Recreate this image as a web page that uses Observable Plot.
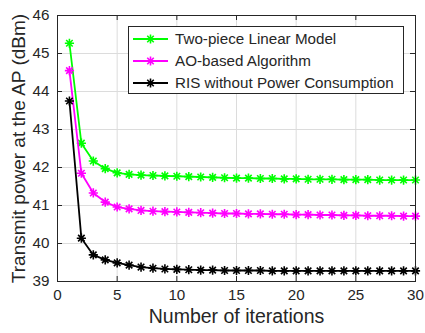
<!DOCTYPE html>
<html>
<head>
<meta charset="utf-8">
<script src="https://cdn.jsdelivr.net/npm/d3@7"></script>
<script src="https://cdn.jsdelivr.net/npm/@observablehq/plot@0.6"></script>
<style>
  html, body { margin: 0; padding: 0; background: #fff; }
  #wrap { position: relative; width: 425px; height: 333px; font-family: "Liberation Sans", Arial, sans-serif; color: #262626; }
  #legend { position: absolute; left: 128px; top: 26px; width: 274px; height: 66px; border: 1px solid #262626; background: #fff; box-sizing: content-box; }
  .row { position: absolute; left: 0; height: 22px; display: flex; align-items: center; font-size: 15.2px; white-space: nowrap; }
  .row svg { margin-left: 4px; margin-right: 7px; }
</style>
</head>
<body>
<div id="wrap"></div>
<script>
const iterations = d3.range(1, 31);
const seriesNames = ["Two-piece Linear Model", "AO-based Algorithm", "RIS without Power Consumption"];
const seriesColors = ["#00ff00", "#ff00ff", "#000000"];
const twoPiece = [45.27, 42.64, 42.17, 41.97, 41.86, 41.82, 41.80, 41.79, 41.78, 41.77, 41.76, 41.75, 41.74, 41.73, 41.72, 41.72, 41.71, 41.71, 41.70, 41.70, 41.69, 41.69, 41.69, 41.68, 41.68, 41.68, 41.67, 41.67, 41.67, 41.67];
const aoBased = [44.55, 41.85, 41.33, 41.09, 40.96, 40.91, 40.87, 40.85, 40.84, 40.83, 40.82, 40.81, 40.80, 40.79, 40.79, 40.78, 40.78, 40.77, 40.77, 40.76, 40.76, 40.75, 40.75, 40.74, 40.74, 40.73, 40.73, 40.73, 40.72, 40.72];
const risNoPower = [43.75, 40.14, 39.70, 39.57, 39.49, 39.43, 39.38, 39.35, 39.33, 39.32, 39.31, 39.30, 39.30, 39.29, 39.29, 39.29, 39.29, 39.28, 39.28, 39.28, 39.28, 39.28, 39.28, 39.28, 39.28, 39.28, 39.28, 39.28, 39.28, 39.28];
const xTicks = [0, 5, 10, 15, 20, 25, 30];
const yTicks = [39, 40, 41, 42, 43, 44, 45, 46];

const allValues = [twoPiece, aoBased, risNoPower];
const data = [];
allValues.forEach((vals, s) => vals.forEach((v, i) => data.push({series: seriesNames[s], x: iterations[i], y: v})));

const asterisk8 = {
  draw(ctx, size) {
    const r = Math.sqrt(size / Math.PI);
    const d = r * Math.SQRT1_2;
    ctx.moveTo(-r, 0); ctx.lineTo(r, 0);
    ctx.moveTo(0, -r); ctx.lineTo(0, r);
    ctx.moveTo(-d, -d); ctx.lineTo(d, d);
    ctx.moveTo(-d, d); ctx.lineTo(d, -d);
  }
};

const W = 425, H = 333, mL = 57, mR = 10, mT = 15, mB = 52;
const innerW = W - mL - mR, innerH = H - mT - mB;
const tickLen = 5;

const marks = [
  Plot.gridX(xTicks, {stroke: "#dcdcdc", strokeOpacity: 1}),
  Plot.gridY(yTicks, {stroke: "#dcdcdc", strokeOpacity: 1}),
  Plot.tickX(xTicks, {x: d => d, stroke: "#262626", insetTop: innerH - tickLen}),
  Plot.tickX(xTicks, {x: d => d, stroke: "#262626", insetBottom: innerH - tickLen}),
  Plot.tickY(yTicks, {y: d => d, stroke: "#262626", insetRight: innerW - tickLen}),
  Plot.tickY(yTicks, {y: d => d, stroke: "#262626", insetLeft: innerW - tickLen}),
  Plot.axisX(xTicks, {tickSize: 0, tickPadding: 8, fontSize: 15.2, label: null, fill: "#262626"}),
  Plot.axisY(yTicks, {tickSize: 0, tickPadding: 8, fontSize: 15.2, label: null, fill: "#262626"}),
];
seriesNames.forEach((name, s) => {
  const rows = data.filter(d => d.series === name);
  marks.push(Plot.line(rows, {x: "x", y: "y", stroke: seriesColors[s], strokeWidth: 1.8}));
  marks.push(Plot.dot(rows, {x: "x", y: "y", symbol: asterisk8, r: 4.6, stroke: seriesColors[s], fill: "none", strokeWidth: 1.6}));
});
marks.push(
  Plot.frame({stroke: "#262626"}),
  Plot.text(["Number of iterations"], {text: d => d, frameAnchor: "bottom", dy: 41, fontSize: 19.5, fill: "#262626"}),
  Plot.text(["Transmit power at the AP (dBm)"], {text: d => d, frameAnchor: "left", textAnchor: "middle", rotate: -90, dx: -39, fontSize: 19, fill: "#262626"})
);

const chart = Plot.plot({
  width: W, height: H,
  marginLeft: mL, marginRight: mR, marginTop: mT, marginBottom: mB,
  style: {fontFamily: "Liberation Sans, Arial, sans-serif", background: "#fff", color: "#262626", overflow: "visible"},
  x: {domain: [0, 30], axis: null},
  y: {domain: [39, 46], axis: null},
  marks
});
const wrap = document.getElementById("wrap");
wrap.appendChild(chart);

// Legend
const legend = document.createElement("div");
legend.id = "legend";
seriesNames.forEach((name, s) => {
  const row = document.createElement("div");
  row.className = "row";
  row.style.top = (0.5 + s * 22) + "px";
  const sw = d3.create("svg").attr("width", 35).attr("height", 14);
  sw.append("line").attr("x1", 0).attr("x2", 35).attr("y1", 7).attr("y2", 7)
    .attr("stroke", seriesColors[s]).attr("stroke-width", 1.8);
  const p = d3.path();
  asterisk8.draw(p, Math.PI * 4.6 * 4.6);
  sw.append("path").attr("d", p.toString()).attr("transform", "translate(17.5,7)")
    .attr("stroke", seriesColors[s]).attr("stroke-width", 1.6).attr("fill", "none");
  row.appendChild(sw.node());
  const label = document.createElement("span");
  label.textContent = name;
  row.appendChild(label);
  legend.appendChild(row);
});
wrap.appendChild(legend);
</script>
</body>
</html>
